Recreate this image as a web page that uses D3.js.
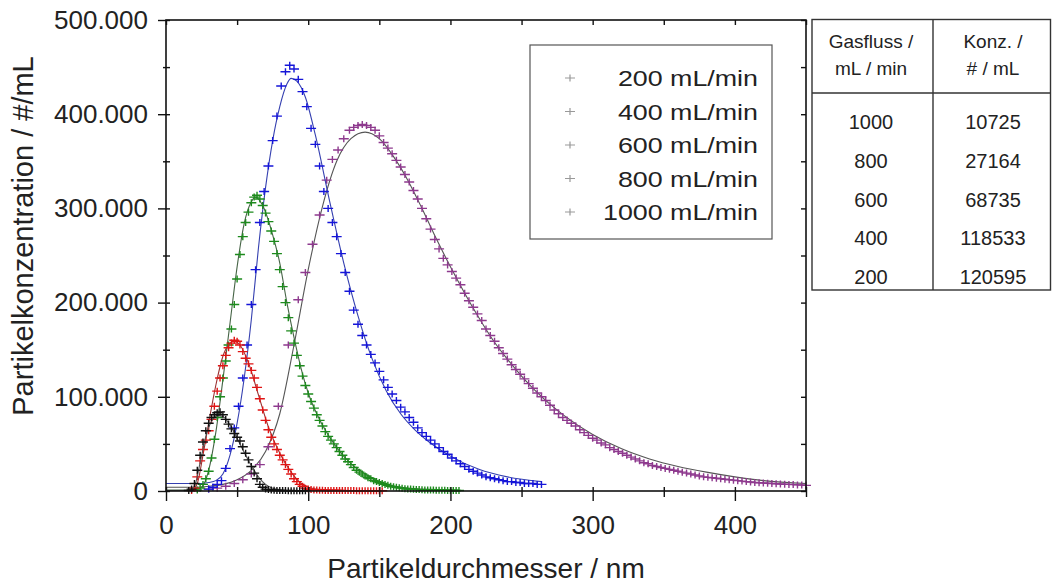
<!DOCTYPE html>
<html>
<head>
<meta charset="utf-8">
<script src="https://cdn.jsdelivr.net/npm/d3@7"></script>
<style>
  body { margin: 0; background: #fff; }
  svg { display: block; }
  text { font-family: "Liberation Sans", Arial, sans-serif; fill: #222; }
</style>
</head>
<body>
<div class="graph"></div>
<script>
// particle size distributions, values in 1000 #/mL
var blackD = [16,18,20,22,24,26,28,30,32,34,36,38,40,42,44,46,48,50,52,54,56,58,60,62,64,66,68,70,72,74,76,78,80,82,84,86,88,90,92,94,96,98];
var blackV = [0.5,2,8,22,38,52,64,72,78,81,83,84,81,76,71,66,61,57,53,47,40,33,26,19,13,7,4,2,1.5,1,0.8,0.6,0.5,0.4,0.4,0.3,0.3,0.3,0.2,0.2,0.2,0.2];

var redD = [18,20,22,24,26,28,30,32,34,36,38,40,42,44,46,48,50,52,54,56,58,60,62,64,66,68,70,72,74,76,78,80,82,84,86,88,90,92,94,96,98,100,102,104,106,108,110,112,114,116,118,120,122,124,126,128,130,132,134,136,138,140,142,144,146,148,150,152];
var redV = [0.5,3,15,32,44,54,64,76,90,106,120,133,144,152,157,160,159,155,148,141,135,128,120,110,98,86,75,65,57,50,44,38,33,28,23,18,13,10,7,5,3,2,1.5,1,1,0.8,0.7,0.6,0.6,0.5,0.5,0.5,0.5,0.4,0.4,0.4,0.4,0.4,0.3,0.3,0.3,0.3,0.3,0.3,0.3,0.3,0.3,0.3];

var greenD = [22,24,26,28,30,32,34,36,38,40,42,44,46,48,50,52,54,56,58,60,62,64,66,68,70,72,74,76,78,80,82,84,86,88,90,92,94,96,98,100,102,104,106,108,110,112,114,116,118,120,122,124,126,128,130,132,134,136,138,140,142,144,146,148,150,152,154,156,158,160,162,164,166,168,170,172,174,176,178,180,182,184,186,188,190,192,194,196,198,200,202,204,206];
var greenV = [1,3,7,13,21,35,55,78,100,120,138,155,172,198,225,251,270,285,296,306,312,314,310,303,295,286,276,265,252,235,217,200,184,170,157,144,133,122,112,103,95,88,81,75,69,63,58,54,50,46,42,38,34,31,28,25,22,20,18,16,14,13,11,10,9,8,7,6,5,4.5,4,3.5,3,2.5,2,2,1.8,1.5,1.5,1.2,1,1,1,1,0.8,0.8,0.8,0.7,0.6,0.6,0.5,0.5,0.5];

var blueD = [30,33,36,39,42,45,48,51,54,57,60,63,66,69,72,75,78,81,84,87,90,93,96,99,102,105,108,111,114,117,120,123,126,129,132,135,138,141,144,147,150,153,156,159,162,165,168,171,174,177,180,183,186,189,192,195,198,201,204,207,210,213,216,219,222,225,228,231,234,237,240,243,246,249,252,255,258,261,264];
var blueV = [2,4,7,11,24,45,67,90,120,155,198,235,285,318,345,372,398,430,445,452,448,437,424,408,385,368,345,318,300,285,270,252,232,212,192,177,165,155,145,136,127,118,110,103,96,89,84,78,73,67,62,58,54,50,46,42,39,35,32,29,26,23,21,19,17,15,14,13,12,11,10,10,9,9,8,8,8,7,7];

var purpleD = [30,36,42,48,54,60,66,72,79,86,93,98,103,108,113,117,121,125,129,132,135,138,141,144,147,150,153,156,159,162,165,168,171,174,177,180,183,186,189,192,195,198,201,204,207,210,213,216,219,222,225,228,231,234,237,240,243,246,249,252,255,258,261,264,267,270,273,276,279,282,285,288,291,294,297,300,303,306,309,312,315,318,321,324,327,330,333,336,339,342,345,348,351,354,357,360,363,366,369,372,375,378,381,384,387,390,393,396,399,402,405,408,411,414,417,420,423,426,429,432,435,438,441,444,447,450];
var purpleV = [2,3,5,8,12,18,28,47,90,155,203,232,262,293,330,352,362,374,383,386,388,389,388,386,383,377,370,364,358,351,344,336,328,319,310,300,289,278,267,257,247,240,233,226,219,210,202,195,188,181,172,165,159,152,146,140,134,129,124,119,114,109,104,100,96,91,86,82,78,75,72,69,65,62,59,56,54,51,49,46,44,42,40,38,36,34,32,30,29,27,26,25,24,23,22,21,20,19,18,17,16,15,14.5,14,13.5,13,12.5,12,11.5,11,10.5,10,9.5,9,8.8,8.5,8.2,8,7.7,7.4,7.2,7,6.8,6.5,6.3,6];

// fitted curves
var blackFitD = [0,16,20,24,28,32,36,40,45,50,55,60,65,70,75,80,90,98];
var blackFitV = [0.5,0.5,5,30,58,74,80,79,70,56,41,27,15,7,3,1.5,0.8,0.5];
var redFitD = [0,18,22,26,30,35,40,45,48,52,58,65,72,80,88,95,100,110,130,152];
var redFitV = [0.5,0.5,8,38,72,112,143,157,159,155,136,102,68,40,20,8,4,1.5,0.5,0.3];
var greenFitD = [0,20,25,30,35,40,45,50,55,60,63,68,75,80,85,90,95,100,110,120,130,140,150,160,180,206];
var greenFitV = [1,1,4,22,62,118,178,238,284,307,312,303,272,242,200,163,130,104,70,46,29,18,10,5,2,1];
var blueFitD = [0,25,30,35,40,45,50,55,60,65,70,75,80,85,88,92,98,105,115,125,135,145,155,165,175,185,200,220,240,264];
var blueFitV = [8,8,9,11,18,38,72,120,182,258,322,372,408,432,438,435,418,378,308,242,186,140,106,82,65,52,37,23,15,10];
var purpleFitD = [0,20,30,40,50,60,70,80,90,100,110,120,130,140,150,160,170,180,190,200,210,220,230,240,250,260,280,300,320,340,360,380,400,420,450];
var purpleFitV = [4,4,5,7,12,22,42,82,155,235,302,350,374,381,374,355,330,300,268,238,210,184,160,140,122,106,80,60,45,34,26,20,15,11,8];

var legendLabels = ["200 mL/min", "400 mL/min", "600 mL/min", "800 mL/min", "1000 mL/min"];
var xTicks = [0, 100, 200, 300, 400];
var yTicks = [0, 100, 200, 300, 400, 500];

var tableHead = [["Gasfluss /", "mL / min"], ["Konz. /", "# / mL"]];
var gasflow = [1000, 800, 600, 400, 200];
var konz = [10725, 27164, 68735, 118533, 120595];

function createGraph() {
    var series = [
        {d: purpleD, v: purpleV, fd: purpleFitD, fv: purpleFitV, color: "#8e3a8e", fit: "#555"},
        {d: blueD, v: blueV, fd: blueFitD, fv: blueFitV, color: "#1515d8", fit: "#3540b0"},
        {d: greenD, v: greenV, fd: greenFitD, fv: greenFitV, color: "#1d8a1d", fit: "#466446"},
        {d: redD, v: redV, fd: redFitD, fv: redFitV, color: "#e01515", fit: "#9a3030"},
        {d: blackD, v: blackV, fd: blackFitD, fv: blackFitV, color: "#111", fit: "#555"}
    ];

    var svgWidth = 1052, svgHeight = 586;
    var pLeft = 166, pRight = 806, pTop = 20, pBottom = 491;

    var svg = d3.select("div.graph").append("svg")
        .attr("width", svgWidth)
        .attr("height", svgHeight);

    var x = d3.scaleLinear().domain([0, 450]).range([pLeft, pRight]);
    var y = d3.scaleLinear().domain([0, 500]).range([pBottom, pTop]);

    var de = d3.formatLocale({decimal: ",", thousands: ".", grouping: [3], currency: ["", "€"]});
    var fmt = de.format(",.0f");

    var plus = "M-5,0H5M0,-3.5V3.5";

    // fit curves + markers
    series.forEach(function (s) {
        var line = d3.line()
            .x(function (p) { return x(p[0]); })
            .y(function (p) { return y(p[1]); })
            .curve(d3.curveMonotoneX);

        svg.append("path")
            .datum(d3.zip(s.fd, s.fv))
            .attr("fill", "none")
            .attr("stroke", s.fit)
            .attr("stroke-width", 1.1)
            .attr("d", line);

        svg.append("g").selectAll("path")
            .data(d3.zip(s.d, s.v))
            .join("path")
            .attr("transform", function (p) { return "translate(" + x(p[0]) + "," + y(p[1]) + ")"; })
            .attr("d", plus)
            .attr("stroke", s.color)
            .attr("stroke-width", 1.4)
            .attr("fill", "none");
    });

    // frame
    svg.append("rect")
        .attr("x", pLeft).attr("y", pTop)
        .attr("width", pRight - pLeft).attr("height", pBottom - pTop)
        .attr("fill", "none")
        .attr("stroke", "#111")
        .attr("stroke-width", 1.6);

    var xMinor = d3.range(0, 451, 50);
    var yMinor = d3.range(0, 501, 50);

    function styleAxis(g) {
        g.select(".domain").remove();
        g.selectAll("line").attr("stroke", "#111").attr("stroke-width", 1.4);
        g.selectAll("text")
            .attr("font-family", "Liberation Sans, Arial, sans-serif")
            .attr("font-size", 26)
            .attr("fill", "#222");
    }

    // bottom axis
    svg.append("g")
        .attr("transform", "translate(0," + pBottom + ")")
        .call(d3.axisBottom(x).tickValues(xTicks).tickSize(10).tickPadding(15).tickFormat(d3.format("d")))
        .call(styleAxis);
    svg.append("g")
        .attr("transform", "translate(0," + pBottom + ")")
        .call(d3.axisBottom(x).tickValues(xMinor.filter(function (v) { return v % 100; })).tickSize(6).tickFormat(""))
        .call(styleAxis);
    svg.append("g")
        .attr("transform", "translate(0," + pBottom + ")")
        .call(d3.axisBottom(x).tickValues(xMinor).tickSize(-4).tickFormat(""))
        .call(styleAxis);

    // left axis
    svg.append("g")
        .attr("transform", "translate(" + pLeft + ",0)")
        .call(d3.axisLeft(y).tickValues(yTicks).tickSize(8).tickPadding(10).tickFormat(function (v) { return fmt(v * 1000); }))
        .call(styleAxis);
    svg.append("g")
        .attr("transform", "translate(" + pLeft + ",0)")
        .call(d3.axisLeft(y).tickValues(yMinor).tickSize(-4).tickFormat(""))
        .call(styleAxis);
    svg.append("g")
        .attr("transform", "translate(" + pLeft + ",0)")
        .call(d3.axisLeft(y).tickValues(yMinor.filter(function (v) { return v % 100; })).tickSize(3).tickFormat(""))
        .call(styleAxis);

    // mirror ticks top / right
    svg.append("g")
        .attr("transform", "translate(0," + pTop + ")")
        .call(d3.axisTop(x).tickValues(xMinor).tickSize(-5).tickFormat(""))
        .call(styleAxis);
    svg.append("g")
        .attr("transform", "translate(" + pRight + ",0)")
        .call(d3.axisRight(y).tickValues(yMinor).tickSize(-5).tickFormat(""))
        .call(styleAxis);

    // axis titles
    svg.append("text")
        .attr("x", (pLeft + pRight) / 2)
        .attr("y", 578)
        .attr("text-anchor", "middle")
        .attr("font-size", 28)
        .text("Partikeldurchmesser / nm");

    svg.append("text")
        .attr("transform", "translate(33,236) rotate(-90)")
        .attr("text-anchor", "middle")
        .attr("font-size", 29)
        .text("Partikelkonzentration / #/mL");

    // legend
    var legend = svg.append("g");
    legend.append("rect")
        .attr("x", 530).attr("y", 45)
        .attr("width", 242).attr("height", 194)
        .attr("fill", "#fff")
        .attr("stroke", "#555")
        .attr("stroke-width", 1.2);

    legendLabels.forEach(function (lab, i) {
        var cy = 78 + i * 33.5;
        legend.append("path")
            .attr("transform", "translate(570," + cy + ")")
            .attr("d", plus)
            .attr("stroke", "#999")
            .attr("stroke-width", 1.2);
        legend.append("text")
            .attr("transform", "translate(758," + (cy + 8) + ") scale(1.22,1)")
            .attr("text-anchor", "end")
            .attr("font-size", 22)
            .text(lab);
    });

    // table
    var tbl = svg.append("g").attr("stroke", "#333").attr("stroke-width", 1.4);
    tbl.append("rect")
        .attr("x", 812).attr("y", 19.5)
        .attr("width", 238.5).attr("height", 270.5)
        .attr("fill", "none");
    tbl.append("line").attr("x1", 933).attr("x2", 933).attr("y1", 19.5).attr("y2", 290);
    tbl.append("line").attr("x1", 812).attr("x2", 1050.5).attr("y1", 93).attr("y2", 93);

    var colX = [871, 993];
    tableHead.forEach(function (h, c) {
        h.forEach(function (t, r) {
            svg.append("text")
                .attr("x", colX[c]).attr("y", 48 + r * 27)
                .attr("text-anchor", "middle")
                .attr("font-family", "Lato, sans-serif")
                .attr("font-size", 19)
                .attr("fill", "#333")
                .text(t);
        });
    });
    gasflow.forEach(function (g, i) {
        var ty = 129 + i * 38.8;
        svg.append("text")
            .attr("x", colX[0]).attr("y", ty)
            .attr("text-anchor", "middle")
            .attr("font-family", "Lato, sans-serif")
            .attr("font-size", 20)
            .attr("fill", "#333")
            .text(g);
        svg.append("text")
            .attr("x", colX[1]).attr("y", ty)
            .attr("text-anchor", "middle")
            .attr("font-family", "Lato, sans-serif")
            .attr("font-size", 20)
            .attr("fill", "#333")
            .text(konz[i]);
    });
}

createGraph();
</script>
</body>
</html>
